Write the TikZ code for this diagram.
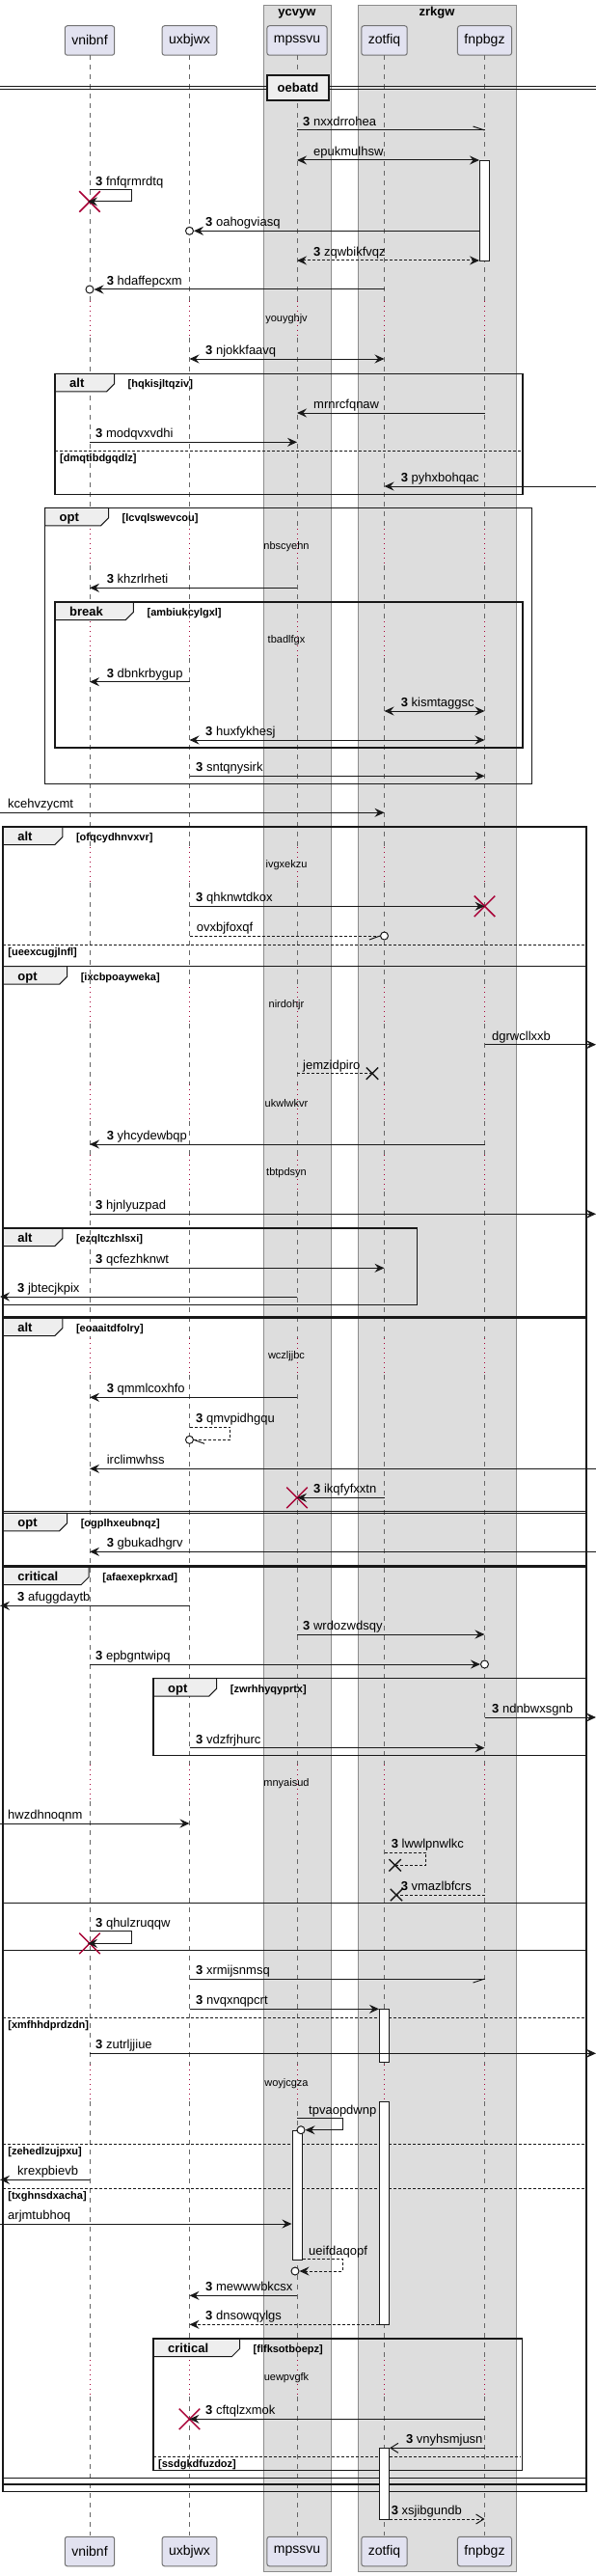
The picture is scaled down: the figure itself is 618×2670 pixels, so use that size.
\documentclass[tikz,border=0pt]{standalone}
\usepackage{fontspec}
\setmainfont{Liberation Sans}
\usetikzlibrary{arrows.meta,shapes.misc}
\definecolor{crim}{RGB}{168,0,54}
\definecolor{partfill}{RGB}{226,226,240}
\definecolor{boxfill}{RGB}{221,221,221}
\definecolor{tabfill}{RGB}{238,238,238}
\definecolor{ink}{RGB}{24,24,24}
\newcommand\grp[8]{%
  \draw[tabs] (#1,#3) -- ++(#5,0) -- ++(0,10.5) -- ++(-8,8) -- (#1,#3+18.5) -- cycle;
  \draw[frm] (#1,#3) rectangle (#2,#4);
  \node[frmlbl] (#8k) at (#1+15,#3+14.5) {#6};
  \node[cond] (#8c) at (#1+#5+14,#3+14.5) {[#7]};
}
\newcommand\els[5]{%
  \draw[elseline] (#1,#3) -- (#2,#3);
  \node[cond] (#5) at (#1+5,#3+11.5) {[#4]};
}
\begin{document}
\begin{tikzpicture}[x=1pt,y=-1pt,
  lifedash/.style={draw=black!60, line width=0.8pt, dash pattern=on 5pt off 5pt},
  lifedot/.style={draw=crim, line width=1pt, dash pattern=on 1pt off 4pt},
  msg/.style={draw=ink, line width=1pt},
  dmsg/.style={draw=ink, line width=1pt, dash pattern=on 3pt off 2pt},
  hd/.style={-{Stealth[length=10pt,width=9pt,inset=3.5pt]}},
  bd/.style={{Stealth[length=10pt,width=9pt,inset=3.5pt]}-{Stealth[length=10pt,width=9pt,inset=3.5pt]}},
  oh/.style={-{Straight Barb[length=8pt,width=10pt]}},
  lbl/.style={anchor=base west, inner sep=0pt, font=\fontsize{13}{15}\selectfont},
  delaytxt/.style={anchor=center, inner sep=0pt, font=\fontsize{11}{13}\selectfont},
  partbox/.style={draw=black!55, fill=partfill, rounded corners=2.5pt, line width=1pt, minimum height=30.5pt, inner xsep=7pt, inner ysep=0pt, font=\fontsize{14}{16}\selectfont},
  grpbox/.style={draw=black!45, fill=boxfill, line width=1pt},
  grptitle/.style={anchor=base, inner sep=0pt, font=\bfseries\fontsize{13}{15}\selectfont},
  frm/.style={draw=ink, line width=1.5pt},
  tabs/.style={draw=ink, line width=1pt, fill=tabfill},
  frmlbl/.style={anchor=base west, inner sep=0pt, font=\bfseries\fontsize{13}{15}\selectfont},
  cond/.style={anchor=base west, inner sep=0pt, font=\bfseries\fontsize{11}{13}\selectfont},
  elseline/.style={draw=ink, line width=1pt, dash pattern=on 2.5pt off 2.5pt},
  destroyx/.style={cross out, draw=crim, line width=1.5pt, minimum size=20pt, inner sep=0pt},
  lostx/.style={cross out, draw=ink, line width=1.4pt, minimum size=11pt, inner sep=0pt},
  endc/.style={circle, draw=ink, fill=white, line width=1pt, minimum size=8pt, inner sep=0pt},
  act/.style={draw=ink, fill=white, line width=1pt, minimum width=10pt, inner sep=0pt, anchor=north},
  sepline/.style={draw=ink, line width=1pt},
  sepbox/.style={draw=ink, fill=tabfill, line width=2pt, minimum width=64pt, minimum height=26pt, inner sep=0pt, font=\bfseries\fontsize{13}{15}\selectfont}
]
\useasboundingbox (0,0) rectangle (618,2670);
\fill[white] (0,0) rectangle (618,2670);
% participant boxes
\draw[grpbox] (273,6) rectangle (343,2665);
\draw[grpbox] (371,6) rectangle (535,2665);
\node[grptitle] (gt1) at (308,17) {ycvyw};
\node[grptitle] (gt2) at (453,17) {zrkgw};
% participants
\node[partbox] (v) at (93,42) {vnibnf};
\node[partbox] (u) at (196.5,42) {uxbjwx};
\node[partbox] (m) at (308,42) {mpssvu};
\node[partbox] (z) at (398.5,42) {zotfiq};
\node[partbox] (f) at (502.5,42) {fnpbgz};
\node[partbox] (v2) at (93,2644.5) {vnibnf};
\node[partbox] (u2) at (196.5,2644.5) {uxbjwx};
\node[partbox] (m2) at (308,2644.5) {mpssvu};
\node[partbox] (z2) at (398.5,2644.5) {zotfiq};
\node[partbox] (f2) at (502.5,2644.5) {fnpbgz};
\coordinate (L) at (0,0);
\coordinate (R) at (618,0);
% lifelines
\foreach \p in {v,u,m,z,f}{
  \foreach \a/\b in {57.3/312,350/548,586/644,682/878,915/1023,1061/1124,1162/1197,1235/1387,1425/1829,1867/2140,2178/2446,2484/2628.3}
    \draw[lifedash] (\p.center |- 0,\a) -- (\p.center |- 0,\b);
  \foreach \a/\b in {312/350,548/586,644/682,878/915,1023/1061,1124/1162,1197/1235,1387/1425,1829/1867,2140/2178,2446/2484}
    \draw[lifedot] (\p.center |- 0,\a) -- (\p.center |- 0,\b);
}
% separator
\draw[sepline] (L |- 0,90) -- (R |- 0,90);
\draw[sepline] (L |- 0,92.7) -- (R |- 0,92.7);
\node[sepbox] (sep) at (309,91) {oebatd};
% frames
\grp{57}{542}{387.3}{512.3}{61.5}{alt}{hqkisjltqziv}{fA}
\els{57}{540}{467.3}{dmqtibdgqdlz}{eA}
\grp{46.5}{551.6}{526.3}{812.3}{66}{opt}{lcvqlswevcou}{fB}
\grp{57}{542}{624}{775}{81.4}{break}{ambiukcylgxl}{fC}
\grp{3.2}{608}{857}{2582.3}{61.6}{alt}{ofqcydhnvxvr}{fD}
\els{3.2}{607}{979.3}{ueexcugjlnfl}{eD}
\grp{3.2}{608}{1001.7}{1365}{66.4}{opt}{ixcbpoayweka}{fE}
\grp{3.2}{432.3}{1273}{1352.3}{61.6}{alt}{ezqltczhlsxi}{fF}
\grp{3.2}{608}{1366}{1566.7}{61.6}{alt}{eoaaitdfolry}{fG}
\grp{3.2}{608}{1568.3}{1622.7}{66.4}{opt}{ogplhxeubnqz}{fH}
\grp{3.2}{608}{1624}{1972.7}{89}{critical}{afaexepkrxad}{fI}
\grp{159}{608}{1739.7}{1819.3}{65.7}{opt}{zwrhhyqyprtx}{fJ}
\draw[frm] (3.2,1972.7) rectangle (608,2021.7);
\draw[frm] (3.2,2021.7) rectangle (608,2568.3);
\draw[frm] (3.2,2575) -- (608,2575);
\els{3.2}{607}{2091}{xmfhhdprdzdn}{eK}
\els{3.2}{607}{2222.3}{zehedlzujpxu}{eL}
\els{3.2}{607}{2268.3}{txghnsdxacha}{eM}
\grp{159}{541.7}{2424}{2560.7}{89.5}{critical}{flfksotboepz}{fN}
\els{159}{540}{2546}{ssdgkdfuzdoz}{eN}
% activations
\node[act, minimum height=104pt] (a1) at (f.center |- 0,166) {};
\node[act, minimum height=54.4pt] (a2) at (z.center |- 0,2082.3) {};
\node[act, minimum height=231pt] (a2b) at (z.center |- 0,2178.3) {};
\node[act, minimum height=134.3pt] (a3) at (m.center |- 0,2207.7) {};
\node[act, minimum height=73.7pt] (a4) at (z.center |- 0,2537.3) {};
% messages
\coordinate (h1) at (f.center |- 0,135);
\draw[msg] (m.center |- 0,135) -- (h1);
\draw[msg] (h1) -- ++(-12,-4);
\node[lbl] (t1) at (314,130.5) {\textbf{3} nxxdrrohea};
\draw[msg,bd] (m.center |- 0,166) -- (a1.west |- 0,166);
\node[lbl] (t2) at (325,161.5) {epukmulhsw};
\node[destroyx] (x1) at (v.center |- 0,209) {};
\draw[msg,hd,shorten >=-2pt] (v.center |- 0,197) -- ++(43,0) -- ++(0,12) -- (x1.center);
\node[lbl] (t3) at (99,192.5) {\textbf{3} fnfqrmrdtq};
\node[endc] (c1) at (u.center |- 0,239.3) {};
\draw[msg,hd] (a1.west |- 0,239.3) -- (c1.east);
\node[lbl] (t4) at (213,234.8) {\textbf{3} oahogviasq};
\draw[dmsg,bd] (m.center |- 0,270) -- (a1.west |- 0,270);
\node[lbl] (t5) at (325,265.5) {\textbf{3} zqwbikfvqz};
\node[endc] (c2) at (v.center |- 0,300) {};
\draw[msg,hd] (z.center |- 0,300) -- (c2.east);
\node[lbl] (t6) at (110.6,295.5) {\textbf{3} hdaffepcxm};
\node[delaytxt] (d1) at (297,331) {youyghjv};
\draw[msg,bd] (u.center |- 0,372) -- (z.center |- 0,372);
\node[lbl] (t7) at (213,367.5) {\textbf{3} njokkfaavq};
\draw[msg,hd] (f.center |- 0,428) -- (m.center |- 0,428);
\node[lbl] (t8) at (325,423.5) {mrnrcfqnaw};
\draw[msg,hd] (v.center |- 0,458.3) -- (m.center |- 0,458.3);
\node[lbl] (t9) at (99,453.8) {\textbf{3} modqvxvdhi};
\draw[msg,hd] (R |- 0,504) -- (z.center |- 0,504);
\node[lbl] (t10) at (415.6,499.5) {\textbf{3} pyhxbohqac};
\node[delaytxt] (d2) at (297,567) {nbscyehn};
\draw[msg,hd] (m.center |- 0,609.3) -- (v.center |- 0,609.3);
\node[lbl] (t11) at (110.6,604.8) {\textbf{3} khzrlrheti};
\node[delaytxt] (d3) at (297,663.3) {tbadlfgx};
\draw[msg,hd] (u.center |- 0,706.7) -- (v.center |- 0,706.7);
\node[lbl] (t12) at (110.6,702.2) {\textbf{3} dbnkrbygup};
\draw[msg,bd] (z.center |- 0,737) -- (f.center |- 0,737);
\node[lbl] (t13) at (415.6,732.5) {\textbf{3} kismtaggsc};
\draw[msg,bd] (u.center |- 0,767) -- (f.center |- 0,767);
\node[lbl] (t14) at (213,762.5) {\textbf{3} huxfykhesj};
\draw[msg,hd] (u.center |- 0,804.3) -- (f.center |- 0,804.3);
\node[lbl] (t15) at (203,799.8) {\textbf{3} sntqnysirk};
\draw[msg,hd] (L |- 0,842.3) -- (z.center |- 0,842.3);
\node[lbl] (t16) at (8,837.8) {kcehvzycmt};
\node[delaytxt] (d4) at (297,896.7) {ivgxekzu};
\node[destroyx] (x2) at (f.center |- 0,939.3) {};
\draw[msg,hd] (u.center |- 0,939.3) -- (x2.center);
\node[lbl] (t17) at (203,934.8) {\textbf{3} qhknwtdkox};
\node[endc] (c3) at (z.center |- 0,970) {};
\draw[dmsg] (u.center |- 0,970) -- (c3.west);
\draw[msg] (c3.west) -- ++(-11,4);
\node[lbl] (t18) at (203.6,965.5) {ovxbjfoxqf};
\node[delaytxt] (d5) at (297,1041.7) {nirdohjr};
\draw[msg,hd] (f.center |- 0,1082.7) -- (R |- 0,1082.7);
\node[lbl] (t19) at (510,1078.2) {dgrwcllxxb};
\node[lostx] (x3) at (386,1112.7) {};
\draw[dmsg] (m.center |- 0,1112.7) -- (x3.center);
\node[lbl] (t20) at (314,1108.2) {jemzidpiro};
\node[delaytxt] (d6) at (297,1143.3) {ukwlwkvr};
\draw[msg,hd] (f.center |- 0,1186) -- (v.center |- 0,1186);
\node[lbl] (t21) at (110.6,1181.5) {\textbf{3} yhcydewbqp};
\node[delaytxt] (d7) at (297,1215.7) {tbtpdsyn};
\draw[msg,hd] (v.center |- 0,1258.3) -- (R |- 0,1258.3);
\node[lbl] (t22) at (99,1253.8) {\textbf{3} hjnlyuzpad};
\draw[msg,hd] (v.center |- 0,1314.3) -- (z.center |- 0,1314.3);
\node[lbl] (t23) at (99,1309.8) {\textbf{3} qcfezhknwt};
\draw[msg,hd] (m.center |- 0,1344) -- (L |- 0,1344);
\node[lbl] (t24) at (18,1339.5) {\textbf{3} jbtecjkpix};
\node[delaytxt] (d8) at (297,1406) {wczljjbc};
\draw[msg,hd] (m.center |- 0,1448.3) -- (v.center |- 0,1448.3);
\node[lbl] (t25) at (110.6,1443.8) {\textbf{3} qmmlcoxhfo};
\node[endc] (c4) at (u.center |- 0,1492.3) {};
\draw[dmsg] (u.center |- 0,1479) -- ++(42,0) -- ++(0,13.3) -- (c4.east);
\draw[msg] (c4.east) -- ++(11,4);
\node[lbl] (t26) at (203,1474.5) {\textbf{3} qmvpidhgqu};
\draw[msg,hd] (R |- 0,1522.3) -- (v.center |- 0,1522.3);
\node[lbl] (t27) at (110.6,1517.8) {irclimwhss};
\node[destroyx] (x4) at (m.center |- 0,1552.3) {};
\draw[msg,hd] (z.center |- 0,1552.3) -- (x4.center);
\node[lbl] (t28) at (325,1547.8) {\textbf{3} ikqfyfxxtn};
\draw[msg,hd] (R |- 0,1608.3) -- (v.center |- 0,1608.3);
\node[lbl] (t29) at (110.6,1603.8) {\textbf{3} gbukadhgrv};
\draw[msg,hd] (u.center |- 0,1664.3) -- (L |- 0,1664.3);
\node[lbl] (t30) at (18,1659.8) {\textbf{3} afuggdaytb};
\draw[msg,hd] (m.center |- 0,1694) -- (f.center |- 0,1694);
\node[lbl] (t31) at (314,1689.5) {\textbf{3} wrdozwdsqy};
\node[endc] (c5) at (f.center |- 0,1725) {};
\draw[msg,hd] (v.center |- 0,1725) -- (c5.west);
\node[lbl] (t32) at (99,1720.5) {\textbf{3} epbgntwipq};
\draw[msg,hd] (f.center |- 0,1780) -- (R |- 0,1780);
\node[lbl] (t33) at (510,1775.5) {\textbf{3} ndnbwxsgnb};
\draw[msg,hd] (u.center |- 0,1811.7) -- (f.center |- 0,1811.7);
\node[lbl] (t34) at (203,1807.2) {\textbf{3} vdzfrjhurc};
\node[delaytxt] (d9) at (297,1848.3) {mnyaisud};
\draw[msg,hd] (L |- 0,1890) -- (u.center |- 0,1890);
\node[lbl] (t35) at (8,1885.5) {hwzdhnoqnm};
\node[lostx] (x5) at (409.6,1933.3) {};
\draw[dmsg] (z.center |- 0,1920) -- ++(43,0) -- ++(0,13.3) -- (x5.center);
\node[lbl] (t36) at (405.6,1915.5) {\textbf{3} lwwlpnwlkc};
\node[lostx] (x6) at (411,1964) {};
\draw[dmsg] (f.center |- 0,1964) -- (x6.center);
\node[lbl] (t37) at (415.6,1959.5) {\textbf{3} vmazlbfcrs};
\node[destroyx] (x7) at (v.center |- 0,2014.3) {};
\draw[msg,hd,shorten >=-2pt] (v.center |- 0,2001.7) -- ++(43,0) -- ++(0,12.6) -- (x7.center);
\node[lbl] (t38) at (99,1997.2) {\textbf{3} qhulzruqqw};
\coordinate (h2) at (f.center |- 0,2051);
\draw[msg] (u.center |- 0,2051) -- (h2);
\draw[msg] (h2) -- ++(-12,4);
\node[lbl] (t39) at (203,2046.5) {\textbf{3} xrmijsnmsq};
\draw[msg,hd] (u.center |- 0,2082.3) -- (a2.west |- 0,2082.3);
\node[lbl] (t40) at (203,2077.8) {\textbf{3} nvqxnqpcrt};
\draw[msg,hd] (v.center |- 0,2128.3) -- (R |- 0,2128.3);
\node[lbl] (t41) at (99,2123.8) {\textbf{3} zutrljjiue};
\node[delaytxt] (d10) at (297,2159.3) {woyjcgza};
\node[endc] (c6) at (312,2207.7) {};
\draw[msg,hd] (m.center |- 0,2195.7) -- ++(47,0) -- ++(0,12) -- (c6.east);
\node[lbl] (t42) at (320,2191.2) {tpvaopdwnp};
\draw[msg,hd] (v.center |- 0,2259.3) -- (L |- 0,2259.3);
\node[lbl] (t43) at (18,2254.8) {krexpbievb};
\draw[msg,hd] (L |- 0,2305) -- (a3.west |- 0,2305);
\node[lbl] (t44) at (8,2300.5) {arjmtubhoq};
\node[endc] (c7) at (306,2354) {};
\draw[dmsg,hd] (a3.east |- 0,2341.7) -- ++(41.6,0) -- ++(0,12.3) -- (c7.east);
\node[lbl] (t45) at (320,2337.2) {ueifdaqopf};
\draw[msg,hd] (m.center |- 0,2379.3) -- (u.center |- 0,2379.3);
\node[lbl] (t46) at (213,2374.8) {\textbf{3} mewwwbkcsx};
\draw[dmsg,hd] (a2b.west |- 0,2409.3) -- (u.center |- 0,2409.3);
\node[lbl] (t47) at (213,2404.8) {\textbf{3} dnsowqylgs};
\node[delaytxt] (d11) at (297,2465) {uewpvgfk};
\node[destroyx] (x8) at (u.center |- 0,2507.3) {};
\draw[msg,hd] (f.center |- 0,2507.3) -- (x8.center);
\node[lbl] (t48) at (213,2502.8) {\textbf{3} cftqlzxmok};
\draw[msg,oh] (f.center |- 0,2537.3) -- (a4.east |- 0,2537.3);
\node[lbl] (t49) at (420.8,2532.8) {\textbf{3} vnyhsmjusn};
\draw[dmsg,oh] (a4.east |- 0,2611) -- (f.center |- 0,2611);
\node[lbl] (t50) at (405.6,2606.5) {\textbf{3} xsjibgundb};
\end{tikzpicture}
\end{document}
